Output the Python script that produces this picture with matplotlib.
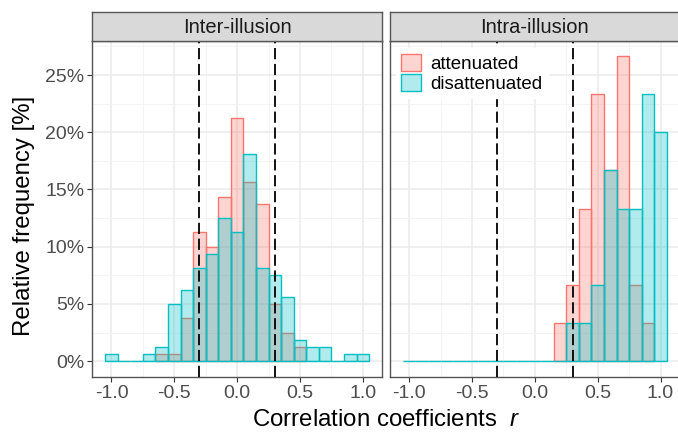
import numpy as np
import matplotlib
matplotlib.use("Agg")
import matplotlib.pyplot as plt
from matplotlib.patches import Rectangle

plt.rcParams['font.family'] = ['Liberation Sans', 'DejaVu Sans']
plt.rcParams['axes.unicode_minus'] = False
plt.rcParams['mathtext.fontset'] = 'custom'
plt.rcParams['mathtext.it'] = 'Liberation Sans:italic'
plt.rcParams['mathtext.rm'] = 'Liberation Sans'

# bin centres (bin width 0.1)
bins = [-1.0, -0.9, -0.8, -0.7, -0.6, -0.5, -0.4, -0.3, -0.2, -0.1, 0.0,
        0.1, 0.2, 0.3, 0.4, 0.5, 0.6, 0.7, 0.8, 0.9, 1.0]

# relative frequency in %
inter_att = [0, 0, 0, 0, 0.625, 0.625, 3.75, 11.25, 10.0, 14.375, 21.25,
             15.625, 13.75, 5.0, 2.5, 1.25, 0, 0, 0, 0, 0]
inter_dis = [0.625, 0, 0, 0.625, 1.25, 5.0, 6.25, 8.125, 9.375, 12.5, 11.25,
             18.125, 8.125, 7.5, 5.625, 1.875, 1.25, 1.25, 0, 0.625, 0.625]
intra_att = [0, 0, 0, 0, 0, 0, 0, 0, 0, 0, 0,
             0, 3.33, 6.67, 13.33, 23.33, 16.67, 26.67, 6.67, 3.33, 0]
intra_dis = [0, 0, 0, 0, 0, 0, 0, 0, 0, 0, 0,
             0, 0, 3.33, 3.33, 6.67, 16.67, 13.33, 13.33, 23.33, 20.0]

panels = ["Inter-illusion", "Intra-illusion"]
series = [(inter_att, inter_dis), (intra_att, intra_dis)]
labels = ["attenuated", "disattenuated"]
cutoffs = [-0.3, 0.3]

red = "#F8766D"
teal = "#00BFC4"

W, H = 678, 433
fig = plt.figure(figsize=(W / 100, H / 100), dpi=100)

pan_w = 290.3
lefts = [92, 389.7]
top_px, bot_px = 41, 377
strip_top = 12

xt = [-1.0, -0.5, 0.0, 0.5, 1.0]
yt = [0, 5, 10, 15, 20, 25]

for i, name in enumerate(panels):
    ax = fig.add_axes([lefts[i] / W, 1 - bot_px / H, pan_w / W, (bot_px - top_px) / H])
    att, dis = series[i]
    # empty attenuated bins are hidden under the disattenuated baseline anyway
    att_shown = np.where(np.array(att) > 0, att, np.nan)
    ax.bar(bins, att_shown, width=0.1, color=red, alpha=0.3, edgecolor="none", zorder=2)
    ax.bar(bins, att_shown, width=0.1, color="none", edgecolor=red, linewidth=1.0, zorder=2)
    ax.bar(bins, dis, width=0.1, color=teal, alpha=0.3, edgecolor="none", zorder=3)
    ax.bar(bins, dis, width=0.1, color="none", edgecolor=teal, linewidth=1.0, zorder=3)
    for c in cutoffs:
        ax.axvline(c, color="black", linewidth=1.3, dashes=(6.2, 2.6), zorder=4)

    ax.set_xlim(-1.155, 1.155)
    ax.set_ylim(-1.38, 27.97)
    ax.set_xticks(xt)
    ax.set_xticklabels(["%.1f" % v for v in xt])
    ax.set_xticks([-0.75, -0.25, 0.25, 0.75], minor=True)
    ax.set_yticks(yt)
    ax.set_yticks([2.5, 7.5, 12.5, 17.5, 22.5, 27.5], minor=True)
    ax.set_yticklabels(["%d%%" % v for v in yt])
    ax.grid(which="major", color="#EBEBEB", linewidth=1.1, zorder=0)
    ax.grid(which="minor", color="#F2F2F2", linewidth=0.6, zorder=0)
    ax.set_axisbelow(True)
    ax.tick_params(which="major", length=3.5, width=0.8, color="#333333",
                   labelsize=14, labelcolor="#4D4D4D", pad=2)
    ax.tick_params(which="minor", length=0)
    if i == 1:
        ax.tick_params(axis="y", which="major", length=0, labelleft=False)
    for s in ax.spines.values():
        s.set_color("#555555")
        s.set_linewidth(1.0)

    # facet strip
    sax = fig.add_axes([lefts[i] / W, 1 - top_px / H, pan_w / W, (top_px - strip_top) / H])
    sax.set_facecolor("#D9D9D9")
    sax.set_xticks([])
    sax.set_yticks([])
    for s in sax.spines.values():
        s.set_color("#555555")
        s.set_linewidth(1.0)
    sax.text(0.5, 0.47, name, ha="center", va="center", fontsize=14.5,
             color="#1A1A1A", transform=sax.transAxes)

    if i == 1:
        handles = [Rectangle((0, 0), 1, 1, facecolor=matplotlib.colors.to_rgba(red, 0.3),
                             edgecolor=red, linewidth=1.0),
                   Rectangle((0, 0), 1, 1, facecolor=matplotlib.colors.to_rgba(teal, 0.3),
                             edgecolor=teal, linewidth=1.0)]
        leg = ax.legend(handles, labels, loc="upper left",
                        bbox_to_anchor=(6 / pan_w, 1 - 7 / (bot_px - top_px)),
                        frameon=True, fancybox=False, framealpha=1.0, edgecolor="white",
                        fontsize=13.5, handlelength=1.05, handleheight=1.05,
                        handletextpad=0.5, labelspacing=0.05, borderpad=0.3,
                        borderaxespad=0.0)
        leg.set_zorder(5)

fig.text(24 / W, 1 - 216 / H, "Relative frequency [%]", rotation=90,
         ha="center", va="center", fontsize=17.3, color="black")
fig.text(386 / W, 1 - 420 / H, "Correlation coefficients  $\\mathit{r}$",
         ha="center", va="center", fontsize=17.3, color="black")

fig.savefig("out.png", dpi=100)
